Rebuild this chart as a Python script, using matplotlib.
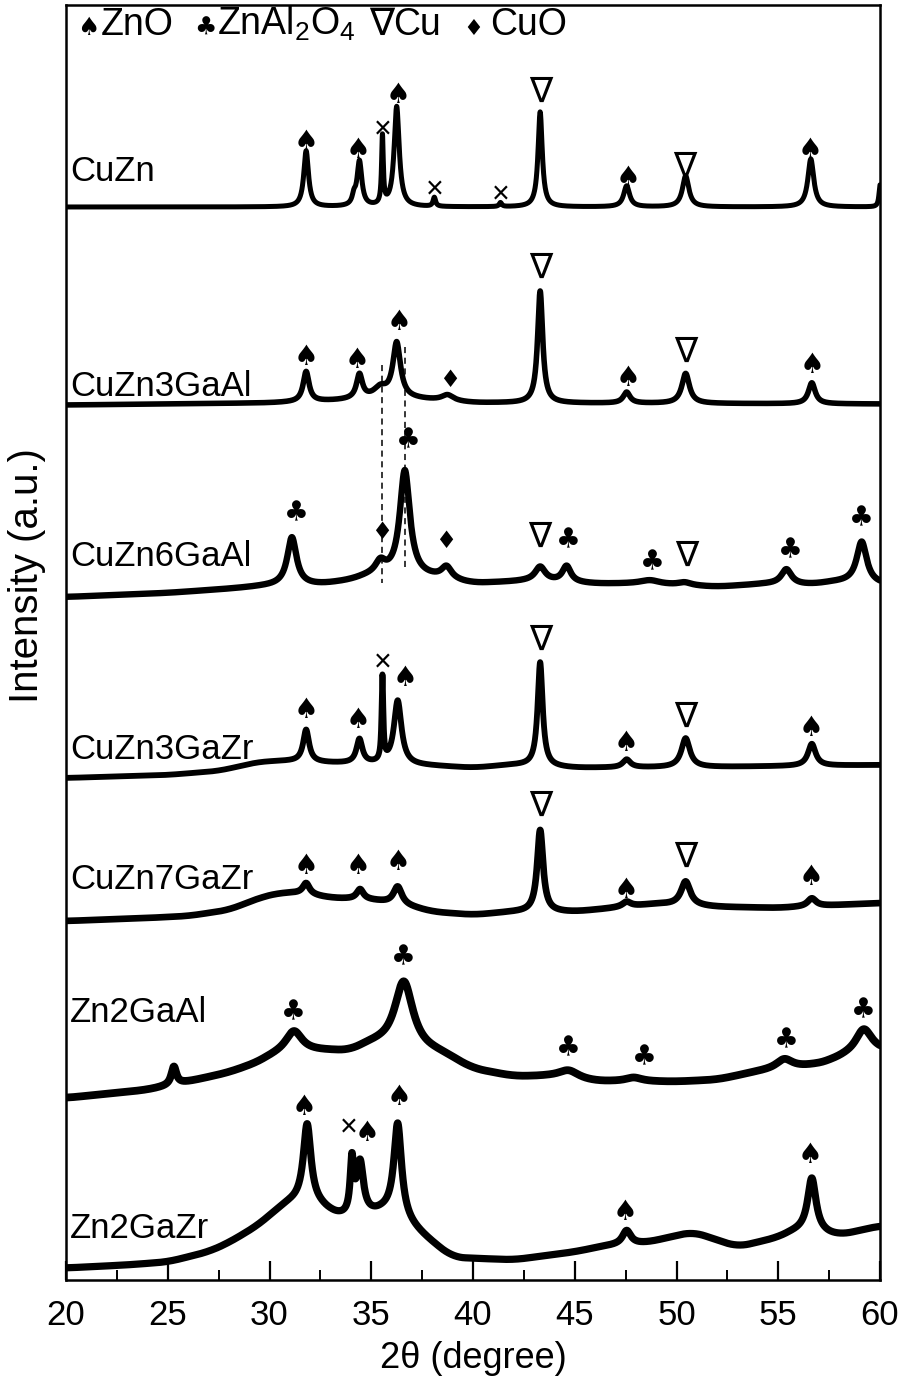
import numpy as np
import matplotlib
matplotlib.use('Agg')
import matplotlib.pyplot as plt
from matplotlib.ticker import MultipleLocator

plt.rcParams['font.family'] = ['Liberation Sans', 'DejaVu Sans']
plt.rcParams['mathtext.fontset'] = 'custom'
plt.rcParams['mathtext.rm'] = 'Liberation Sans'
plt.rcParams['mathtext.it'] = 'Liberation Sans:italic'

# ---------------- data (2theta in degree, intensity in arbitrary stacked units) ----------------
samples = ['CuZn', 'CuZn3GaAl', 'CuZn6GaAl', 'CuZn3GaZr', 'CuZn7GaZr', 'Zn2GaAl', 'Zn2GaZr']

# background points (2theta, level) and peak tables (position, height, FWHM)
cuzn_bg_x = [20, 60]
cuzn_bg_y = [1073, 1073]
cuzn_pk_pos = [31.8, 34.15, 34.42, 35.55, 36.25, 38.1, 41.35, 43.3, 47.55, 50.45, 56.6, 60.0]
cuzn_pk_h = [56, 8, 45, 68, 100, 9, 4, 95, 21, 31, 48, 22]
cuzn_pk_w = [0.28, 0.2, 0.28, 0.1, 0.3, 0.15, 0.15, 0.25, 0.35, 0.38, 0.35, 0.12]

cz3ga_bg_x = [20, 30, 33, 35, 37, 40, 60]
cz3ga_bg_y = [875, 877, 879, 881, 881, 877, 876]
cz3ga_pk_pos = [31.8, 34.42, 35.45, 36.25, 38.75, 43.3, 47.55, 50.45, 56.65]
cz3ga_pk_h = [30, 24, 10, 55, 6, 112, 11, 30, 21]
cz3ga_pk_w = [0.35, 0.35, 0.8, 0.45, 0.7, 0.3, 0.4, 0.45, 0.4]

cz6ga_bg_x = [20, 25, 28, 30, 32.5, 34, 35, 38, 40, 42, 43, 46, 48, 52, 54.5, 56.5, 58, 60]
cz6ga_bg_y = [683, 687, 691, 694, 695, 699, 704, 702, 696, 698, 699, 696, 696, 693, 696, 695, 698, 695]
cz6ga_pk_pos = [31.1, 35.45, 36.65, 38.7, 43.3, 44.6, 48.7, 50.4, 55.4, 59.1]
cz6ga_pk_h = [48, 12, 106, 12, 14, 16, 4, 3, 15, 42]
cz6ga_pk_w = [0.55, 0.6, 0.6, 0.6, 0.6, 0.5, 1.2, 0.8, 0.6, 0.6]

cz3gz_bg_x = [20, 25, 27.5, 29.5, 31, 33, 35, 38, 40, 42, 45, 52, 60]
cz3gz_bg_y = [502, 505, 509, 518, 519, 517, 516, 514, 512, 515, 512, 513, 515]
cz3gz_pk_pos = [31.8, 34.42, 35.55, 36.3, 43.3, 47.55, 50.45, 56.65]
cz3gz_pk_h = [32, 24, 84, 64, 104, 8, 29, 22]
cz3gz_pk_w = [0.35, 0.35, 0.1, 0.45, 0.3, 0.45, 0.5, 0.45]

cz7gz_bg_x = [20, 24, 26, 28, 29.5, 30.5, 31.5, 33, 35, 37, 38, 40, 42, 45, 49, 52, 55, 58, 60]
cz7gz_bg_y = [359, 362, 364, 370, 382, 387, 387, 382, 380, 373, 368, 365, 368, 368, 376, 373, 372, 375, 377]
cz7gz_pk_pos = [31.8, 34.45, 36.3, 43.3, 47.55, 50.45, 56.65]
cz7gz_pk_h = [11, 10, 18, 82, 5, 24, 8]
cz7gz_pk_w = [0.4, 0.4, 0.5, 0.35, 0.5, 0.55, 0.5]

z2ga_bg_x = [20, 22, 24, 26, 28, 29.5, 30.3, 32.5, 34, 35, 38.5, 40, 42, 44, 46, 50, 52, 54, 56, 57.5, 58, 60]
z2ga_bg_y = [182, 186, 190, 198, 207, 217, 225, 228, 227, 235, 225, 210, 203, 203, 198, 198, 200, 208, 212, 217, 222, 228]
z2ga_pk_pos = [25.3, 31.2, 36.6, 44.7, 47.9, 55.3, 59.2]
z2ga_pk_h = [18, 22, 68, 8, 4, 10, 25]
z2ga_pk_w = [0.3, 1.0, 1.1, 1.2, 1.0, 1.0, 1.0]

z2gz_bg_x = [20, 23, 25, 27, 28, 29.5, 30.5, 31.3, 32.5, 33.3, 35, 36, 37.5, 39, 42, 45, 46.5, 48.5, 50.8, 53, 55, 56, 58, 60]
z2gz_bg_y = [12, 15, 18, 28, 37, 55, 72, 80, 75, 62, 65, 70, 45, 22, 20, 28, 34, 37, 48, 33, 42, 50, 44, 54]
z2gz_pk_pos = [31.85, 34.05, 34.45, 36.3, 47.55, 56.65]
z2gz_pk_h = [78, 52, 52, 92, 14, 54]
z2gz_pk_w = [0.45, 0.2, 0.4, 0.45, 0.5, 0.5]

label_y = [1108, 893, 723, 530, 400, 268, 52]

# phase markers: (symbol key, 2theta, height)
mk_sym = ['S', 'S', 'X', 'S', 'X', 'X', 'T', 'S', 'T', 'S',
          'S', 'S', 'S', 'D', 'T', 'S', 'T', 'S',
          'C', 'D', 'C', 'D', 'T', 'C', 'C', 'T', 'C', 'C',
          'S', 'S', 'X', 'S', 'T', 'S', 'T', 'S',
          'S', 'S', 'S', 'T', 'S', 'T', 'S',
          'C', 'C', 'C', 'C', 'C', 'C',
          'S', 'X', 'S', 'S', 'S', 'S']
mk_x = [31.79, 34.35, 35.58, 36.31, 38.13, 41.38, 43.34, 47.62, 50.42, 56.56,
        31.79, 34.3, 36.35, 38.85, 43.34, 47.62, 50.47, 56.66,
        31.3, 35.53, 36.8, 38.67, 43.29, 44.67, 48.8, 50.5, 55.58, 59.1,
        31.79, 34.35, 35.58, 36.66, 43.34, 47.52, 50.47, 56.61,
        31.79, 34.35, 36.31, 43.34, 47.52, 50.47, 56.61,
        31.15, 36.6, 44.67, 48.4, 55.38, 59.16,
        31.7, 33.88, 34.8, 36.36, 47.47, 56.56]
mk_y = [1138, 1130, 1150, 1185, 1090, 1085, 1188, 1102, 1113, 1130,
        923, 920, 958, 900, 1012, 902, 928, 915,
        767, 748, 840, 739, 743, 740, 718, 724, 730, 762,
        570, 560, 617, 602, 640, 537, 563, 552,
        414, 414, 418, 474, 390, 423, 403,
        268, 323, 232, 223, 240, 270,
        173, 152, 147, 183, 68, 125]

dashed_x = [35.55, 36.66]
dashed_y0 = [915, 933]
dashed_y1 = [697, 713]

# ---------------- figure ----------------
W, H = 905, 1383
fig = plt.figure(figsize=(W / 100, H / 100), dpi=100)
ax = fig.add_axes([66 / W, (H - 1280) / H, (880 - 66) / W, (1280 - 5) / H])

X = np.linspace(20, 60, 4001)
kern = np.ones(121) / 121.0


def pattern(bx, by, pos, hh, ww):
    base = np.interp(X, bx, by).astype(float)
    pad = len(kern) // 2
    padded = np.concatenate([np.full(pad, base[0]), base, np.full(pad, base[-1])])
    y = np.convolve(padded, kern, mode='valid')
    for p, h, w in zip(pos, hh, ww):
        y = y + h / (1 + ((X - p) / (w / 2)) ** 2)
    return y


series = [
    (cuzn_bg_x, cuzn_bg_y, cuzn_pk_pos, cuzn_pk_h, cuzn_pk_w, 3.6),
    (cz3ga_bg_x, cz3ga_bg_y, cz3ga_pk_pos, cz3ga_pk_h, cz3ga_pk_w, 4.0),
    (cz6ga_bg_x, cz6ga_bg_y, cz6ga_pk_pos, cz6ga_pk_h, cz6ga_pk_w, 4.6),
    (cz3gz_bg_x, cz3gz_bg_y, cz3gz_pk_pos, cz3gz_pk_h, cz3gz_pk_w, 4.2),
    (cz7gz_bg_x, cz7gz_bg_y, cz7gz_pk_pos, cz7gz_pk_h, cz7gz_pk_w, 4.8),
    (z2ga_bg_x, z2ga_bg_y, z2ga_pk_pos, z2ga_pk_h, z2ga_pk_w, 5.6),
    (z2gz_bg_x, z2gz_bg_y, z2gz_pk_pos, z2gz_pk_h, z2gz_pk_w, 5.2),
]
for bx, by, pos, hh, ww, lw in series:
    ax.plot(X, pattern(bx, by, pos, hh, ww), color='black', lw=lw,
            solid_joinstyle='round', solid_capstyle='round')

for name, ly in zip(samples, label_y):
    ax.text(20.2, ly, name, fontsize=25, ha='left', va='center')

sym_text = {'S': '\u2660', 'C': '\u2663', 'D': '\u2666', 'T': '\u2207', 'X': '\u00d7'}
sym_size = {'S': 20, 'C': 20, 'D': 17, 'T': 25, 'X': 22}
sym_font = {'S': 'DejaVu Sans', 'C': 'DejaVu Sans', 'D': 'DejaVu Sans',
            'T': 'DejaVu Sans', 'X': 'Liberation Sans'}
for s, mx, my in zip(mk_sym, mk_x, mk_y):
    ax.text(mx, my, sym_text[s], fontsize=sym_size[s], family=sym_font[s],
            ha='center', va='center')

for dx, y0, y1 in zip(dashed_x, dashed_y0, dashed_y1):
    ax.plot([dx, dx], [y0, y1], color='black', lw=1.1, ls=(0, (4, 3)))

# legend line at top
leg_sym = ['\u2660', '\u2663', '\u2207', '\u2666']
leg_txt = ['ZnO', r'ZnAl$_2$O$_4$', 'Cu', 'CuO']
leg_sym_x = [21.08, 26.83, 35.53, 40.0]
leg_txt_x = [21.72, 27.4, 36.07, 40.84]
leg_sym_size = [18, 18, 27, 16]
leg_base = 1245
for s, t, sx, tx, sz in zip(leg_sym, leg_txt, leg_sym_x, leg_txt_x, leg_sym_size):
    ax.text(sx, leg_base, s, fontsize=sz, family='DejaVu Sans', ha='center', va='baseline')
    ax.text(tx, leg_base, t, fontsize=27, ha='left', va='baseline')

ax.set_xlim(20, 60)
ax.set_ylim(0, 1275)
ax.set_yticks([])
ax.xaxis.set_major_locator(MultipleLocator(5))
ax.xaxis.set_minor_locator(MultipleLocator(2.5))
ax.tick_params(axis='x', which='major', direction='in', length=14, width=1.6,
               labelsize=25, pad=14, top=False)
ax.tick_params(axis='x', which='minor', direction='in', length=7, width=1.4, top=False)
for sp in ax.spines.values():
    sp.set_linewidth(1.8)

ax.set_xlabel('2\u03b8 (degree)', fontsize=26, labelpad=6)
ax.set_ylabel('Intensity (a.u.)', fontsize=29)
ax.yaxis.set_label_coords(-0.024, (1280 - 576) / 1275)

fig.savefig('out.png', dpi=100)
